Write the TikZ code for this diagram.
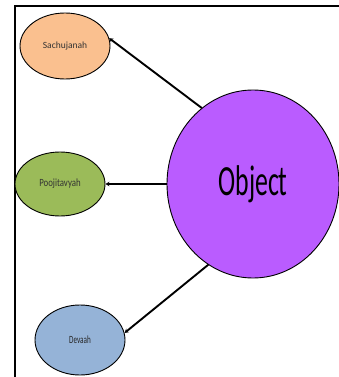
\documentclass[tikz,border=0pt]{standalone}
\usepackage{fontspec}
\usepackage{graphicx}
\setmainfont{Carlito}
\usetikzlibrary{shapes.geometric,arrows.meta}
\definecolor{peach}{HTML}{FAC08F}
\definecolor{olive}{HTML}{9BBB59}
\definecolor{skyblue}{HTML}{95B3D7}
\definecolor{violet}{HTML}{BA5CFF}
\tikzset{
  bubble/.style={ellipse, draw=black, line width=0.9pt, inner sep=0pt,
                 minimum width=90pt, minimum height=66pt},
  link/.style={line width=1.9pt, draw=black,
               -{Stealth[length=4pt,width=4.5pt]}},
}
\begin{document}
\begin{tikzpicture}[x=1pt,y=-1pt]
  \useasboundingbox (0,0) rectangle (339,377);
  % frame on the left and top
  \draw[line width=2pt] (14.5,377) -- (14.5,5.8) -- (339,5.8);
  % central object
  \node[ellipse, draw=black, line width=0.9pt, fill=violet, inner sep=0pt,
        minimum width=172pt, minimum height=188pt] (obj) at (253,184)
        {\scalebox{0.6}[1]{\fontsize{43}{43}\selectfont Object}};
  % surrounding bubbles
  \node[bubble, fill=peach] (sach) at (65,46)
        {\fontsize{9.5}{9.5}\selectfont\color{black!80}Sachujanah};
  \node[bubble, fill=olive, minimum height=64pt] (pooj) at (60,184)
        {\scalebox{0.8}[1]{\fontsize{11}{11}\selectfont\color{black!80}Poojitavyah}};
  \node[bubble, fill=skyblue, minimum height=70pt] (deva) at (80,340)
        {\scalebox{0.65}[1]{\fontsize{11}{11}\selectfont\color{black!85}Devaah}};
  % connectors
  \draw[link] (obj.124) -- (sach.10);
  \draw[link] (obj) -- (pooj);
  \draw[link] (obj.241) -- (deva.9);
\end{tikzpicture}
\end{document}
